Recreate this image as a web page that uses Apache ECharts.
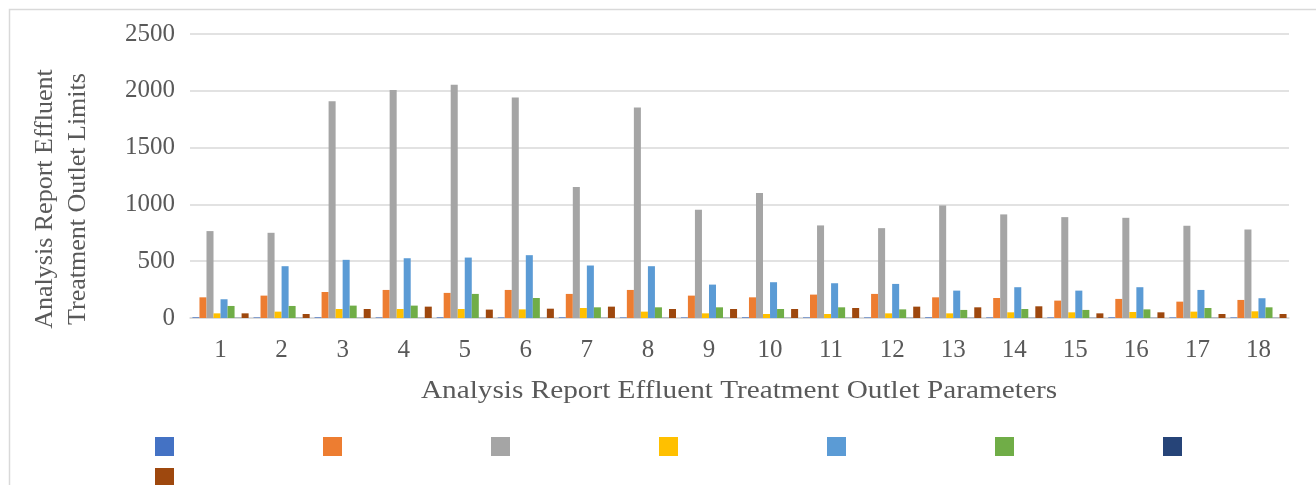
<!DOCTYPE html>
<html>
<head>
<meta charset="utf-8">
<script src="https://cdn.jsdelivr.net/npm/echarts@6/dist/echarts.min.js"></script>
<style>
html,body{margin:0;padding:0;background:#fff;}
#c{width:1316px;height:485px;}
</style>
</head>
<body>
<div id="c"></div>
<script>
var categories = ['1','2','3','4','5','6','7','8','9','10','11','12','13','14','15','16','17','18'];
var yTicks = [0, 500, 1000, 1500, 2000, 2500];
var xTitle = 'Analysis Report Effluent Treatment Outlet Parameters';
var yTitle = 'Analysis Report Effluent\nTreatment Outlet Limits';
var seriesNames = ['S1','S2','S3','S4','S5','S6','S7','S8'];
var seriesColors = ['#4472C4','#ED7D31','#A5A5A5','#FFC000','#5B9BD5','#70AD47','#264478','#9E480E'];
var s1 = [6,5,6,5,6,5,6,5,5,6,5,5,6,5,5,6,5,5];
var s2 = [182,197,229,247,221,247,212,247,197,182,206,212,182,176,153,168,144,159];
var s3 = [765,750,1909,2006,2053,1941,1153,1853,953,1100,815,791,991,912,888,882,812,779];
var s4 = [41,56,79,79,79,76,88,56,41,35,35,41,41,50,50,53,56,59];
var s5 = [165,456,512,526,532,553,462,456,294,315,306,300,241,271,241,271,247,174];
var s6 = [106,106,109,109,212,176,94,94,94,79,94,76,71,79,71,76,88,94];
var s7 = [2,2,2,2,2,2,2,2,2,2,2,2,2,2,2,2,2,2];
var s8 = [41,35,79,100,74,82,100,79,79,79,88,100,94,103,41,50,35,35];
var allData = [s1,s2,s3,s4,s5,s6,s7,s8];

var font = '"Liberation Serif", "Times New Roman", serif';
var chart = echarts.init(document.getElementById('c'), null, {renderer:'canvas'});
var series = allData.map(function(d, i){
  return {
    name: seriesNames[i], type: 'bar', data: d,
    itemStyle: {color: seriesColors[i]},
    barGap: '0%', barCategoryGap: '8%'
  };
});
var legendStyle = {
  icon: 'rect', itemWidth: 19, itemHeight: 19, itemGap: 149, padding: 0,
  formatter: function(){ return ''; },
  textStyle: {fontSize: 1}, selectedMode: false, orient: 'horizontal'
};
chart.setOption({
  animation: false,
  backgroundColor: '#ffffff',
  color: seriesColors,
  graphic: [{
    type: 'rect', left: 7, top: 7,
    shape: {width: 1308, height: 500},
    style: {fill: 'none', stroke: '#D9D9D9', lineWidth: 1.5},
    silent: true
  }, {
    type: 'text', x: 739, y: 391, scaleX: 1.17,
    style: {text: xTitle, font: '25px ' + font, fill: '#595959', align: 'center', verticalAlign: 'middle'},
    silent: true
  }],
  legend: [
    Object.assign({left: 155, top: 437, data: seriesNames.slice(0,7)}, legendStyle),
    Object.assign({left: 155, top: 468, data: seriesNames.slice(7)}, legendStyle)
  ],
  grid: {left: 190, right: 27, top: 34, bottom: 167, containLabel: false},
  xAxis: {
    type: 'category', data: categories,
    axisLine: {lineStyle: {color: '#D9D9D9', width: 1.5}},
    axisTick: {show: false},
    axisLabel: {fontFamily: font, fontSize: 25, color: '#595959', margin: 20}
  },
  yAxis: {
    type: 'value', min: yTicks[0], max: yTicks[yTicks.length-1], interval: 500,
    name: yTitle,
    nameLocation: 'middle', nameGap: 95, nameRotate: 90,
    nameTextStyle: {fontFamily: font, fontSize: 26, color: '#595959', lineHeight: 33, padding: [0, 46, 0, 0]},
    axisLine: {show: false}, axisTick: {show: false},
    splitLine: {lineStyle: {color: '#D9D9D9', width: 1.5}},
    axisLabel: {fontFamily: font, fontSize: 25, color: '#595959', margin: 15,
      formatter: function(v){ return String(v); }}
  },
  series: series
});
</script>
</body>
</html>
